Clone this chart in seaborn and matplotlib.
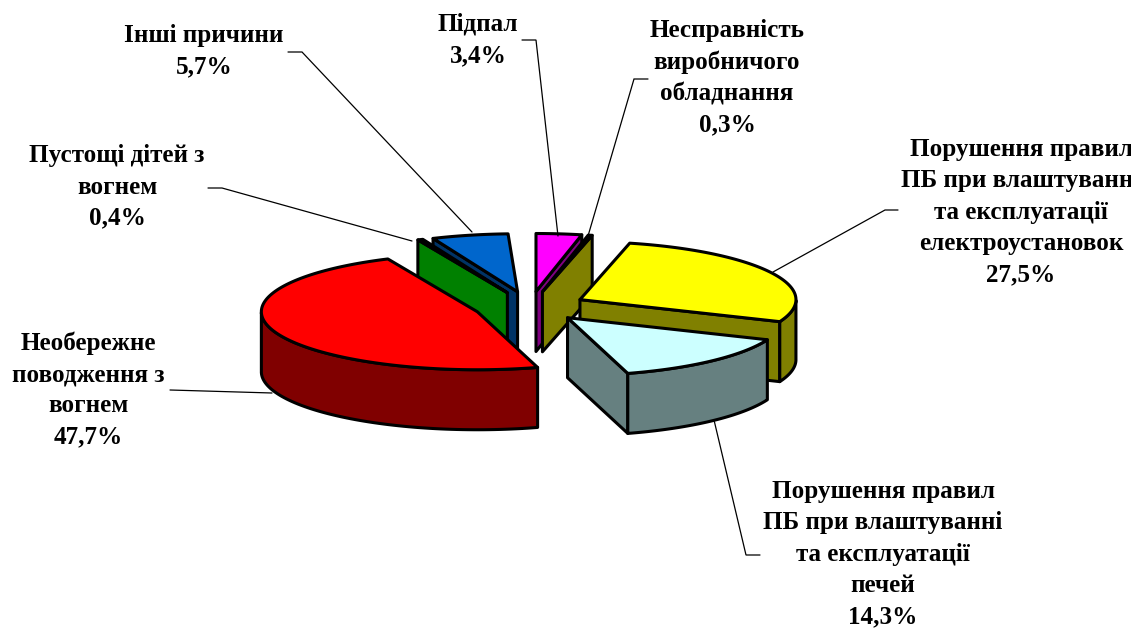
import numpy as np
import seaborn as sns
import matplotlib
matplotlib.use("Agg")
import matplotlib.pyplot as plt

# дані діаграми (за годинниковою стрілкою від 12 години)
labels = [
    "Підпал\n3,4%",
    "Несправність\nвиробничого\nобладнання\n0,3%",
    "Порушення правил\nПБ при влаштуванні\nта експлуатації\nелектроустановок\n27,5%",
    "Порушення правил\nПБ при влаштуванні\nта експлуатації\nпечей\n14,3%",
    "Необережне\nповодження з\nвогнем\n47,7%",
    "Пустощі дітей з\nвогнем\n0,4%",
    "Інші причини\n5,7%",
]
values = [3.4, 0.3, 27.5, 14.3, 47.7, 0.4, 5.7]
colors = ["#FF00FF", "#FFFF00", "#FFFF00", "#CCFFFF", "#FF0000", "#00FF00", "#0066CC"]

# підписи і виноски, у пікселях картинки
label_pos = [(478, 40), (727, 78), (1021, 212), (883, 554), (88, 390), (117, 187), (204, 51)]
leaders = [
    [(522, 40), (536, 40), (558, 236)],
    [(648, 79), (634, 79), (588, 236)],
    [(898, 210), (885, 210), (773, 272)],
    [(760, 555), (746, 555), (714, 420)],
    [(170, 390), (272, 393)],
    [(208, 188), (222, 188), (412, 241)],
    [(288, 52), (302, 52), (472, 232)],
]

cx, cy = 530, 306.5
rx, ry = 216, 58
depth = 60
explode = 0.26
start_angle = 90

sns.set_theme(style="white")
plt.rcParams["font.family"] = ["Liberation Serif", "DejaVu Serif"]
palette = sns.color_palette(colors)


def rim(ax_x, ax_y, angle):
    a = np.radians(angle)
    return ax_x + rx * np.cos(a), ax_y - ry * np.sin(a)


def draw_wedge(ax, theta1, theta2, color):
    # theta1 > theta2, йдемо за годинниковою стрілкою
    mid = (theta1 + theta2) / 2
    ox, oy = rim(0, 0, mid)
    x0, y0 = cx + explode * ox, cy + explode * oy
    wall = tuple(c * 0.5 for c in color)
    style = dict(edgecolor="black", linewidth=2.2, joinstyle="round")

    # бокові грані
    for edge, visible in [(theta1, np.cos(np.radians(theta1)) < 0), (theta2, np.cos(np.radians(theta2)) > 0)]:
        if visible:
            ex, ey = rim(x0, y0, edge)
            ax.fill([x0, ex, ex, x0], [y0, ey, ey + depth, y0 + depth], facecolor=wall, **style)

    # зовнішня стінка, тільки передня частина
    angs = np.linspace(theta1, theta2, 120)
    angs = angs[np.sin(np.radians(angs)) <= 0]
    if len(angs) > 1:
        xs, ys = rim(x0, y0, angs)
        ax.fill(np.r_[xs, xs[::-1]], np.r_[ys, ys[::-1] + depth], facecolor=wall, **style)

    # верхня грань
    angs = np.linspace(theta1, theta2, 120)
    xs, ys = rim(x0, y0, angs)
    ax.fill(np.r_[x0, xs], np.r_[y0, ys], facecolor=color, **style)


fig = plt.figure(figsize=(11.36, 6.3), dpi=100)
ax = fig.add_axes([0, 0, 1131 / 1136, 1])
ax.set_xlim(0, 1131)
ax.set_ylim(630, 0)
ax.axis("off")

for pts in leaders:
    ax.plot(*zip(*pts), color="black", lw=0.9, solid_joinstyle="miter")

sweeps = np.array(values) * 3.6
ends = start_angle - np.cumsum(sweeps)
starts = ends + sweeps
order = np.argsort(-np.sin(np.radians((starts + ends) / 2)))
for i in order:
    draw_wedge(ax, starts[i], ends[i], palette[i])

for text, (x, y) in zip(labels, label_pos):
    ax.text(x, y, text, ha="center", va="center", fontsize=18.1, fontweight="bold",
            color="black", linespacing=1.46, clip_on=True)

fig.savefig("out.png", dpi=100)
